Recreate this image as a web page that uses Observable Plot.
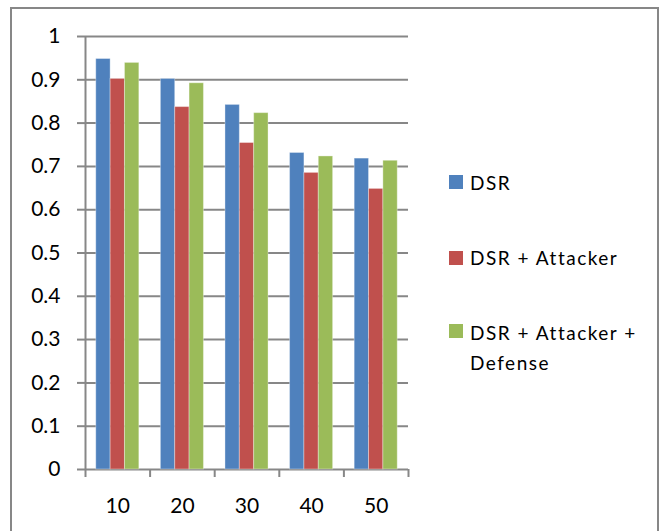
<!DOCTYPE html>
<html>
<head>
<meta charset="utf-8">
<script src="https://cdn.jsdelivr.net/npm/d3@7"></script>
<script src="https://cdn.jsdelivr.net/npm/@observablehq/plot@0.6"></script>
<style>
  html, body { margin: 0; padding: 0; background: #fff; }
  #chart { position: relative; width: 662px; height: 531px; overflow: hidden; font-family: Lato, "Open Sans", sans-serif; }
  #chart svg { position: absolute; left: 0; top: 0; }
  #border { position: absolute; left: 10px; top: 7px; width: 649px; height: 560px; box-sizing: border-box; border: 2px solid #878787; pointer-events: none; }
  .legend-item { position: absolute; left: 449px; width: 205px; font-size: 19px; line-height: 30px; letter-spacing: 1.5px; color: #000; }
  .legend-item .swatch { position: absolute; left: 0; width: 14px; height: 14px; }
  .legend-item .label { display: block; margin-left: 21px; width: 184px; }
</style>
</head>
<body>
<div id="chart"><div id="border"></div></div>
<script>
// Number of nodes on the x axis, one group of bars each
const categories = ["10", "20", "30", "40", "50"];
const seriesNames = ["DSR", "DSR + Attacker", "DSR + Attacker + Defense"];
const seriesColors = ["#4F81BD", "#C0504D", "#9BBB59"];

// Delivery success ratio per series
const dsr = [0.948, 0.902, 0.842, 0.731, 0.718];
const dsrAttacker = [0.902, 0.837, 0.754, 0.685, 0.648];
const dsrAttackerDefense = [0.939, 0.892, 0.823, 0.723, 0.713];

const yTicks = [0, 0.1, 0.2, 0.3, 0.4, 0.5, 0.6, 0.7, 0.8, 0.9, 1];
const yTickLabels = ["0", "0.1", "0.2", "0.3", "0.4", "0.5", "0.6", "0.7", "0.8", "0.9", "1"];

// Clustered columns: each category spans one unit of x, with a gap of
// 150% of a bar width split between both sides of the cluster.
const seriesValues = [dsr, dsrAttacker, dsrAttackerDefense];
const nSeries = seriesValues.length;
const gapRatio = 1.5;
const barWidth = 1 / (nSeries + gapRatio);
const sideGap = (gapRatio * barWidth) / 2;

const rows = categories.flatMap((category, i) =>
  seriesValues.map((values, s) => ({
    category,
    series: seriesNames[s],
    index: i,
    slot: s,
    value: values[i]
  }))
);

const boundaries = d3.range(categories.length + 1);
const centers = categories.map((_, i) => i + 0.5);

const gray = "#878787";

const chart = Plot.plot({
  width: 662,
  height: 531,
  marginLeft: 85,
  marginRight: 254,
  marginTop: 36,
  marginBottom: 62,
  style: { fontFamily: "Lato, 'Open Sans', sans-serif", background: "transparent" },
  x: { type: "linear", domain: [0, categories.length] },
  y: { domain: [0, 1] },
  color: { domain: seriesNames, range: seriesColors },
  marks: [
    Plot.ruleY(yTicks, { stroke: gray, strokeWidth: 2 }),
    Plot.rectY(rows, {
      x1: (d) => d.index + sideGap + d.slot * barWidth,
      x2: (d) => d.index + sideGap + (d.slot + 1) * barWidth,
      y: "value",
      fill: "series",
      stroke: "#ffffff",
      strokeOpacity: 0.35,
      strokeWidth: 1
    }),
    Plot.ruleX([0], { stroke: gray, strokeWidth: 2 }),
    Plot.axisY(yTicks, {
      tickSize: 8,
      tickPadding: 17,
      tickFormat: (d) => yTickLabels[yTicks.indexOf(d)],
      stroke: gray,
      strokeWidth: 2,
      strokeOpacity: 1,
      fill: "#000",
      fontSize: 21,
      label: null
    }),
    Plot.axisX(boundaries, {
      tickSize: 8,
      tickFormat: () => "",
      stroke: gray,
      strokeWidth: 2,
      strokeOpacity: 1,
      label: null
    }),
    Plot.axisX(centers, {
      tickSize: 0,
      tickPadding: 29,
      tickFormat: (d) => categories[Math.floor(d)],
      fill: "#000",
      fontSize: 21,
      label: null
    })
  ]
});

const container = document.getElementById("chart");
container.insertBefore(chart, container.firstChild);

// Legend on the right side of the chart area
const legendTops = [167.6, 242.6, 318.3];
const swatchOffsets = [7.4, 8.4, 5.7];
seriesNames.forEach((name, i) => {
  const item = document.createElement("div");
  item.className = "legend-item";
  item.style.top = legendTops[i] + "px";
  const swatch = document.createElement("span");
  swatch.className = "swatch";
  swatch.style.background = seriesColors[i];
  swatch.style.top = swatchOffsets[i] + "px";
  const label = document.createElement("span");
  label.className = "label";
  label.textContent = name;
  item.appendChild(swatch);
  item.appendChild(label);
  container.appendChild(item);
});
</script>
</body>
</html>
